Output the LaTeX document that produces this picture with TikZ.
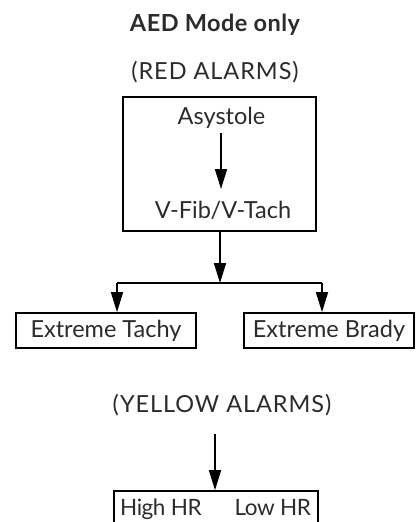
\documentclass[tikz,border=0pt]{standalone}
\usepackage{fontspec}
\setmainfont{Lato}
\usetikzlibrary{arrows.meta}
\definecolor{txt}{HTML}{2B2B2B}
\tikzset{
  lbl/.style={text=txt,font=\fontsize{23.5}{27}\selectfont,inner sep=0pt},
  caps/.style={lbl,font=\fontsize{23.5}{27}\selectfont\addfontfeature{LetterSpace=4}},
  tight/.style={lbl,font=\fontsize{22.5}{27}\selectfont\addfontfeature{LetterSpace=-2}},
  boxed/.style={draw=black,line width=1.7pt},
  conn/.style={draw=black,line width=1.6pt,-{Triangle[length=20pt,width=12pt]}},
  plain/.style={draw=black,line width=1.6pt}
}
\begin{document}
\begin{tikzpicture}[x=1pt,y=-1pt]
\useasboundingbox (0,0) rectangle (415,522);
\clip (0,0) rectangle (415,522);
\node[lbl,font=\fontsize{23.5}{27}\selectfont\bfseries\addfontfeature{LetterSpace=2}] (title) at (215,25) {AED Mode only};
\node[caps] (red) at (215,72) {(RED ALARMS)};
\node[boxed,minimum width=193pt,minimum height=134pt,inner sep=0pt] (redbox) at (219.5,164) {};
\node[lbl] (asys) at (221.5,118) {Asystole};
\node[lbl] (vfib) at (223,210) {V-Fib/V-Tach};
\coordinate (a1) at (221,133);
\coordinate (a2) at (221,189);
\draw[conn] (a1) -- (a2);
\coordinate (split) at (220,283);
\draw[conn] (redbox.south -| split) -- (split);
\node[boxed,minimum width=180pt,minimum height=35pt,inner sep=0pt] (tachy) at (106,330.5) {};
\node[lbl] at (tachy.center) (tachytxt) {Extreme Tachy};
\node[boxed,minimum width=170pt,minimum height=35pt,inner sep=0pt] (brady) at (329,330.5) {};
\node[lbl] at (brady.center) (bradytxt) {Extreme Brady};
\coordinate (lt) at (117,283);
\coordinate (rt) at (322,283);
\draw[plain] (lt) -- (rt);
\draw[conn] (lt) -- (lt |- tachy.north);
\draw[conn] (rt) -- (rt |- brady.north);
\node[caps] (yellow) at (222,405) {(YELLOW ALARMS)};
\coordinate (y1) at (215,434);
\node[boxed,minimum width=204pt,minimum height=40pt,inner sep=0pt] (ybox) at (216,511) {};
\draw[conn] (y1) -- (y1 |- ybox.north);
\node[tight,anchor=base west] (high) at (120,515) {High HR};
\node[tight,anchor=base east] (low) at (311,515) {Low HR};
\end{tikzpicture}
\end{document}
